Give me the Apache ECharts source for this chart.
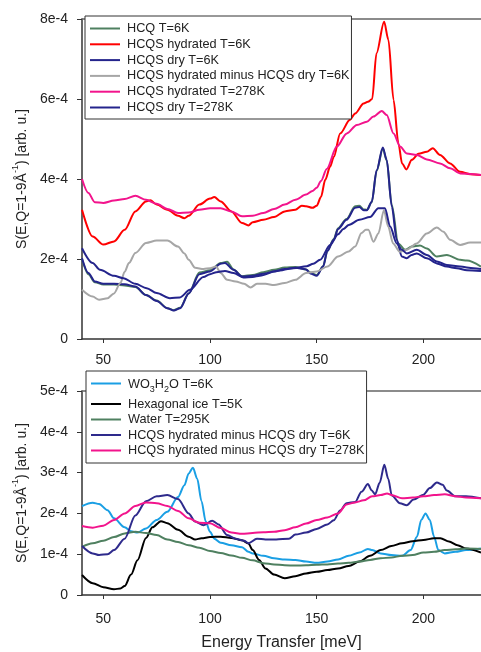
<!DOCTYPE html>
<html>
<head>
<meta charset="utf-8">
<script src="https://cdn.jsdelivr.net/npm/echarts@6/dist/echarts.min.js"></script>
<style>
  html, body { margin: 0; padding: 0; background: #fff; }
  #chart { width: 481px; height: 652px; }
</style>
</head>
<body>
<div id="chart"></div>
<script>
// Intensities are stored in units of 1e-4 (arb. u.); energies in meV.

// ---- Upper panel: HCQ / HCQS spectra ----
const hcq6E   = [40,43,46,50,55,60,65,70,75,80,83,86,90,95,100,105,108,111,115,120,125,130,135,140,145,147,150,153,155,158,160,164,168,170,172,173.5,175.8,178.1,181,182.8,185.2,188.2,191.4,194.5,198.4,201.6,206.3,211,217.2,220.4,227];
const hcq6S   = [2.00,1.62,1.42,1.36,1.36,1.34,1.30,1.10,0.96,0.77,0.72,0.78,1.14,1.66,1.72,1.90,1.93,1.74,1.57,1.60,1.67,1.73,1.79,1.80,1.74,1.66,1.60,1.82,2.20,2.50,2.77,3.00,3.32,3.33,3.24,3.23,3.42,4.20,4.76,4.46,3.35,2.39,2.23,2.31,2.34,2.26,2.06,2.10,1.98,1.96,1.81];

const hyd6E   = [40,45,50,55,60,65,70,72,75,80,85,88,90,95,100,102,105,110,115,118,120,125,130,135,140,143,145,148,150,152,154,156.3,158,161,165.6,168,172,174,176,178,181.6,183.6,186,188.3,190,192,194.6,197.7,201.6,204.4,207.8,212.5,217.2,222,227];
const hyd6S   = [3.23,2.56,2.36,2.44,2.73,3.19,3.44,3.47,3.36,3.23,3.08,3.02,3.08,3.36,3.51,3.55,3.44,3.19,2.90,2.84,2.92,2.98,3.05,3.19,3.23,3.33,3.32,3.28,3.33,3.55,3.98,4.31,4.55,5.14,5.48,5.64,5.89,5.93,6.00,7.14,7.93,7.48,5.98,4.89,4.39,4.24,4.48,4.63,4.68,4.77,4.60,4.39,4.18,4.12,4.10];

const dry6E   = [40,43,46,50,55,60,65,70,75,80,83,86,90,95,100,105,107,111,115,120,125,130,135,140,145,147,150,153,155,158,160,164,168,170,172,173.5,175.8,178.1,181,182.8,185.2,187.5,189.9,192.2,194.5,196.9,201.6,206.3,211,215.7,220.4,227];
const dry6S   = [2.02,1.65,1.44,1.38,1.38,1.37,1.31,1.10,0.95,0.77,0.71,0.77,1.14,1.62,1.69,1.88,1.90,1.73,1.56,1.58,1.63,1.69,1.75,1.78,1.74,1.64,1.58,1.81,2.20,2.48,2.75,2.98,3.28,3.30,3.22,3.22,3.43,4.22,4.79,4.48,3.31,2.48,2.06,2.02,2.10,2.14,2.02,1.89,1.81,1.77,1.72,1.70];

const diff6E  = [40,45,48,52,55,58,60,62,65,70,75,80,85,88,90,93,97,100,102.8,105,108,112,116,119,122,126,130,135,140,145,150,155,160,165,168,171,173,174.2,176.6,178.9,181.5,183.5,185.8,188.9,192.2,196.9,201.6,206.3,209.4,212.5,217.2,221.9,227];
const diff6S  = [1.23,1.06,0.98,1.02,1.14,1.40,1.68,1.90,2.15,2.40,2.46,2.46,2.31,2.14,1.98,1.78,1.75,1.77,1.81,1.65,1.48,1.44,1.38,1.29,1.38,1.38,1.35,1.40,1.48,1.65,1.69,1.81,2.06,2.19,2.31,2.65,2.73,2.73,2.43,2.64,3.22,2.81,2.39,2.18,2.23,2.39,2.64,2.79,2.68,2.48,2.35,2.41,2.41];

const hyd278E = [40,43,46,50,55,60,65,70,75,80,85,90,95,100,105,110,115,120,125,130,135,140,145,148,150,152,154.7,159.4,164.1,168.8,173.5,176.6,180.5,182.8,186,189.1,192.2,196.9,201.6,207.8,212.5,217.2,223.4,227];
const hyd278S = [4.00,3.65,3.42,3.40,3.46,3.50,3.58,3.48,3.38,3.25,3.15,3.16,3.23,3.27,3.27,3.19,3.07,3.08,3.15,3.25,3.36,3.48,3.61,3.70,3.78,3.95,4.25,4.81,5.14,5.35,5.43,5.56,5.70,5.60,5.14,4.81,4.64,4.60,4.49,4.39,4.27,4.14,4.12,4.10];

const dry278E = [40,45,48.4,55,59.4,65,70.3,75,81.2,85.9,90.6,96.9,100,103,107,111,115.6,120,123.4,131.2,139,145.3,148.4,151.6,156.3,160,162.5,165,170,175,178.9,182,184.4,187.5,189.9,192.2,196.9,201.6,206.3,211,217.2,223.5,227];
const dry278S = [2.27,1.90,1.73,1.58,1.52,1.38,1.27,1.15,1.02,1.04,1.23,1.55,1.62,1.67,1.70,1.65,1.54,1.55,1.58,1.70,1.77,1.82,1.88,1.98,2.35,2.62,2.75,2.85,2.98,3.05,3.27,3.27,2.81,2.39,2.23,2.14,2.23,2.10,1.94,1.85,1.81,1.77,1.75];

// ---- Lower panel: reference spectra and difference spectra ----
const wo3E    = [40,45,48,52,55,60,63,66,70,75,80,85,88,90,92,94,96,98,100,102,105,110,115,118,120,125,130,135,140,145,150,155,160,165,170,174,176,180,185,190,194,197,199,201,203,205,207,210,215,220,227];
const wo3S    = [2.18,2.26,2.23,2.08,1.88,1.66,1.56,1.53,1.63,1.84,2.04,2.40,2.69,2.98,3.12,2.85,2.30,1.80,1.55,1.38,1.28,1.22,1.17,1.06,1.02,0.96,0.90,0.87,0.86,0.82,0.79,0.82,0.87,0.96,1.04,1.13,1.10,1.02,0.98,0.96,1.10,1.43,1.84,2.00,1.84,1.43,1.10,1.02,1.06,1.10,1.14];

const iceE    = [40,45,50,55,58,60,63,66,70,73,77,80,85,90,93,96,100,105,110,115,118,120,123,126,130,135,140,145,150,155,160,165,170,175,180,185,190,195,200,205,208,212,216,220,227];
const iceS    = [0.49,0.29,0.19,0.14,0.16,0.22,0.50,0.85,1.40,1.66,1.81,1.76,1.60,1.43,1.36,1.39,1.42,1.43,1.40,1.34,1.26,1.10,0.86,0.65,0.50,0.41,0.46,0.53,0.57,0.61,0.65,0.71,0.82,0.96,1.10,1.20,1.27,1.32,1.35,1.39,1.39,1.31,1.22,1.14,1.04];

const waterE  = [40,45,50,55,60,65,70,75,80,85,90,95,100,105,110,115,120,125,130,135,140,145,150,155,160,165,170,175,180,185,190,195,200,205,210,215,220,227];
const waterS  = [1.18,1.27,1.33,1.42,1.51,1.55,1.52,1.47,1.36,1.30,1.22,1.16,1.08,1.03,0.97,0.91,0.85,0.78,0.75,0.73,0.72,0.73,0.74,0.75,0.77,0.79,0.82,0.86,0.90,0.92,0.96,0.98,1.04,1.06,1.10,1.12,1.14,1.13];

const sub6E   = [40,45,48,52,55,60,65,70,75,80,85,90,93,97,101,104,108,112,116,118,122,126,131,137,140,145,150,155,158,161,164,168,171,174,175.7,177.4,179.5,181.7,183.5,185.2,189,192.2,195.4,200,203,206.3,209,211,215,220,227];
const sub6S   = [1.20,1.02,0.98,1.00,1.10,1.38,1.95,2.30,2.42,2.45,2.35,2.00,1.80,1.71,1.82,1.73,1.47,1.38,1.33,1.27,1.38,1.36,1.36,1.38,1.48,1.53,1.62,1.73,1.83,2.07,2.25,2.28,2.53,2.72,2.57,2.47,2.75,3.19,2.85,2.44,2.25,2.20,2.34,2.46,2.62,2.76,2.70,2.56,2.42,2.42,2.37];

const sub278E = [40,45,50,55,60,65,70,75,80,85,90,95,100,105,110,115,120,125,130,135,140,145,150,155,160,164,168,172,176,180,183,185,190,195,200,205,210,215,220,227];
const sub278S = [1.69,1.65,1.70,1.84,2.00,2.18,2.27,2.25,2.18,2.06,1.88,1.77,1.76,1.64,1.53,1.50,1.52,1.54,1.55,1.59,1.66,1.75,1.84,1.90,2.00,2.22,2.27,2.32,2.42,2.45,2.49,2.45,2.37,2.39,2.42,2.45,2.47,2.42,2.39,2.37];

const xTicks = [50, 100, 150, 200];
const FONT = '"Liberation Sans", Arial, sans-serif';

const C = {
  green: '#4f8060',
  red: '#ff0000',
  navy: '#24248c',
  gray: '#a6a6a6',
  pink: '#f2148c',
  cyan: '#1a9fe4',
  black: '#000000'
};

function pairs(E, S) { return E.map((e, i) => [e, S[i]]); }

// panel 0 uses xAxis 0 / yAxis 0, panel 1 uses xAxis 2 / yAxis 1
function line(name, E, S, color, panel) {
  return {
    name, type: 'line', xAxisIndex: panel * 2, yAxisIndex: panel,
    data: pairs(E, S), showSymbol: false, symbol: 'none',
    smooth: 0.3, smoothMonotone: 'x',
    lineStyle: { color, width: 2 }, itemStyle: { color },
    emphasis: { disabled: true }, silent: true
  };
}

function bottomAxis(grid, margin, extra) {
  return Object.assign({
    type: 'value', gridIndex: grid, min: 40, max: 227, position: 'bottom',
    axisLine: { show: true, onZero: false, lineStyle: { color: '#333', width: 1.5 } },
    axisTick: { show: true, customValues: xTicks, length: 4, lineStyle: { color: '#333' } },
    axisLabel: { customValues: xTicks, fontSize: 14, color: '#222', fontFamily: FONT, margin: margin },
    splitLine: { show: false }
  }, extra || {});
}

function topFrame(grid) {
  return {
    type: 'value', gridIndex: grid, min: 40, max: 227, position: 'top',
    axisLine: { show: true, onZero: false, lineStyle: { color: '#666', width: 1.5 } },
    axisTick: { show: false }, axisLabel: { show: false }, splitLine: { show: false }
  };
}

const yName = '{t|S(E,Q=1-9Å}{sup|-1}{t|) [arb. u.]}';
const yNameStyle = {
  fontFamily: FONT, color: '#222',
  rich: {
    t: { fontSize: 14, fontFamily: FONT, color: '#222', lineHeight: 18, verticalAlign: 'bottom' },
    sup: { fontSize: 9, fontFamily: FONT, color: '#222', lineHeight: 10, verticalAlign: 'top' }
  }
};

function leftAxis(grid, max) {
  return {
    type: 'value', gridIndex: grid, min: 0, max: max, interval: grid === 0 ? 2 : 1,
    axisLine: { show: true, lineStyle: { color: '#333', width: 1.5 } },
    axisTick: { show: true, length: 5, lineStyle: { color: '#333' } },
    axisLabel: {
      fontSize: 14, color: '#222', fontFamily: FONT, margin: 14,
      formatter: v => (v === 0 ? '0' : v + 'e-4')
    },
    splitLine: { show: false },
    name: yName, nameLocation: 'middle', nameRotate: 90, nameGap: 50,
    nameTextStyle: yNameStyle
  };
}

const legendBase = {
  orient: 'vertical', selectedMode: false,
  icon: 'rect', itemWidth: 30, itemHeight: 2,
  backgroundColor: '#fff', borderColor: '#333', borderWidth: 1, borderRadius: 0,
  textStyle: { fontSize: 12.7, color: '#222', fontFamily: FONT, lineHeight: 15, padding: [0, 0, 0, 2] }
};

const chart = echarts.init(document.getElementById('chart'), null, { renderer: 'canvas' });

chart.setOption({
  animation: false,
  backgroundColor: '#fff',
  grid: [
    { left: 82, top: 19, width: 399, height: 320 },
    { left: 82, top: 391, width: 399, height: 204 }
  ],
  xAxis: [
    bottomAxis(0, 14),
    topFrame(0),
    bottomAxis(1, 17, {
      name: 'Energy Transfer [meV]', nameLocation: 'middle', nameGap: 40,
      nameTextStyle: { fontSize: 16, color: '#222', fontFamily: FONT }
    }),
    topFrame(1)
  ],
  yAxis: [leftAxis(0, 8), leftAxis(1, 5)],
  legend: [
    Object.assign({}, legendBase, {
      left: 85, top: 16, padding: [5, 2, 4, 5], itemGap: 0.8,
      data: ['HCQ T=6K', 'HCQS hydrated T=6K', 'HCQS dry T=6K',
             'HCQS hydrated minus HCQS dry T=6K', 'HCQS hydrated T=278K', 'HCQS dry T=278K']
    }),
    Object.assign({}, legendBase, {
      left: 86, top: 371, padding: [5, 2, 5, 5], itemGap: 0.5,
      data: ['WO3H2O T=6K', 'Hexagonal ice T=5K', 'Water T=295K',
             'HCQS hydrated minus HCQS dry T=6K ', 'HCQS hydrated minus HCQS dry T=278K'],
      formatter: function (name) {
        if (name === 'WO3H2O T=6K') return '{n|WO}{s|3}{n|H}{s|2}{n|O T=6K}';
        return name;
      },
      textStyle: Object.assign({}, legendBase.textStyle, {
        rich: {
          n: { fontSize: 12.7, fontFamily: FONT, color: '#222', lineHeight: 15, verticalAlign: 'top', padding: [2, 0, 0, 0] },
          s: { fontSize: 9, fontFamily: FONT, color: '#222', lineHeight: 9, verticalAlign: 'top', padding: [9, 0, 2, 0] }
        }
      })
    })
  ],
  series: [
    line('HCQ T=6K', hcq6E, hcq6S, C.green, 0),
    line('HCQS hydrated T=6K', hyd6E, hyd6S, C.red, 0),
    line('HCQS dry T=6K', dry6E, dry6S, C.navy, 0),
    line('HCQS hydrated minus HCQS dry T=6K', diff6E, diff6S, C.gray, 0),
    line('HCQS hydrated T=278K', hyd278E, hyd278S, C.pink, 0),
    line('HCQS dry T=278K', dry278E, dry278S, C.navy, 0),

    line('WO3H2O T=6K', wo3E, wo3S, C.cyan, 1),
    line('Hexagonal ice T=5K', iceE, iceS, C.black, 1),
    line('Water T=295K', waterE, waterS, C.green, 1),
    line('HCQS hydrated minus HCQS dry T=6K ', sub6E, sub6S, '#2e2a8c', 1),
    line('HCQS hydrated minus HCQS dry T=278K', sub278E, sub278S, C.pink, 1)
  ]
});
</script>
</body>
</html>
